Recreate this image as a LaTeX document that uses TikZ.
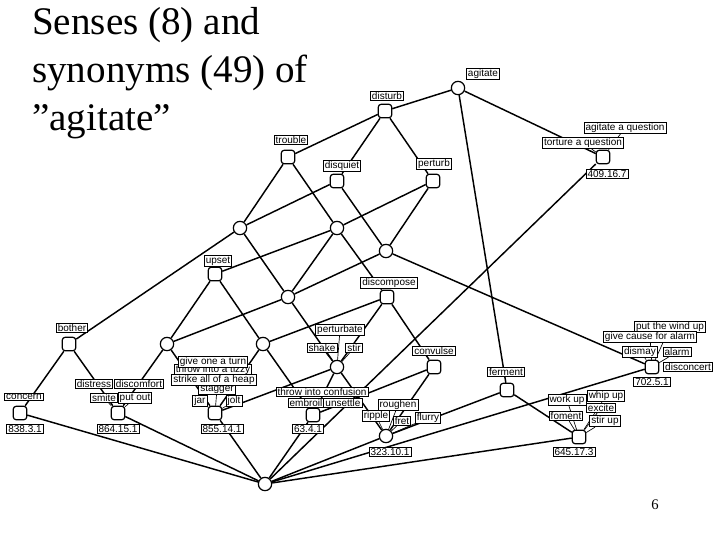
\documentclass[tikz,border=0pt]{standalone}
\usepackage{fontspec}
\setmainfont{Liberation Serif}
\newfontfamily\lblfont{Liberation Sans}
\pgfdeclarelayer{bg}
\pgfsetlayers{bg,main}
\begin{document}
\begin{tikzpicture}[x=0.75pt,y=-0.75pt,
  cnode/.style={circle,draw,fill=white,minimum size=10pt,inner sep=0pt,line width=0.9pt},
  snode/.style={rectangle,rounded corners=2pt,draw,fill=white,minimum size=10pt,inner sep=0pt,line width=0.9pt},
  lbl/.style={draw,fill=white,font=\lblfont\fontsize{7.5}{8}\selectfont,inner xsep=1.2pt,inner ysep=0.8pt,line width=0.6pt},
  con/.style={line width=1.1pt},
  lead/.style={line width=0.5pt},
  title/.style={anchor=base west,font=\fontsize{29.3}{35}\selectfont,inner sep=0pt}]
\useasboundingbox (0,0) rectangle (720,540);
% title
\node[title] (t1) at (32,34) {Senses (8) and};
\node[title] (t2) at (32,82) {synonyms (49) of};
\node[title] (t3) at (32,130) {”agitate”};
\node[font=\fontsize{11}{12}\selectfont] (pg) at (655,505) {6};
% concept nodes
\node[cnode] (A) at (458,88) {};
\node[snode] (B) at (385,111) {};
\node[snode] (C) at (288,157) {};
\node[snode] (D) at (337,181) {};
\node[snode] (E) at (433,181) {};
\node[snode] (F) at (603,157) {};
\node[cnode] (G) at (240,228) {};
\node[cnode] (H) at (337,228) {};
\node[cnode] (I) at (386,251) {};
\node[snode] (J) at (215,274) {};
\node[cnode] (K) at (288,297) {};
\node[snode] (L) at (387,297) {};
\node[snode] (M) at (69,344) {};
\node[cnode] (N) at (167,344) {};
\node[cnode] (O) at (263,344) {};
\node[cnode] (P) at (337,367) {};
\node[snode] (Q) at (434,367) {};
\node[snode] (R) at (507,390) {};
\node[snode] (S) at (652,367) {};
\node[snode] (T) at (20,413) {};
\node[snode] (U) at (118,413) {};
\node[snode] (V) at (215,413) {};
\node[snode] (W) at (313,415) {};
\node[cnode] (X) at (386,436) {};
\node[snode] (Y) at (579,437) {};
\node[cnode] (Z) at (265,484) {};
% labels
\node[lbl] (l1) at (483,74) {agitate};
\node[lbl] (l2) at (387,96) {disturb};
\node[lbl] (l3) at (291,140) {trouble};
\node[lbl] (l4) at (342,166) {disquiet};
\node[lbl] (l5) at (434,164) {perturb};
\node[lbl] (l6) at (625,128) {agitate a question};
\node[lbl] (l7) at (583,143) {torture a question};
\node[lbl] (l8) at (607,174) {409.16.7};
\node[lbl] (l9) at (218,261) {upset};
\node[lbl] (l10) at (389,283) {discompose};
\node[lbl] (l11) at (72,328) {bother};
\node[lbl] (l12) at (24,397) {concern};
\node[lbl] (l13) at (25,429) {838.3.1};
\node[lbl] (l14) at (94,384) {distress};
\node[lbl] (l15) at (139,384) {discomfort};
\node[lbl] (l16) at (104,398) {smite};
\node[lbl] (l17) at (135,398) {put out};
\node[lbl] (l18) at (118,429) {864.15.1};
\node[lbl] (l22) at (217,389) {stagger};
\node[lbl] (l20) at (213,370) {throw into a tizzy};
\node[lbl] (l19) at (213,362) {give one a turn};
\node[lbl] (l21) at (214,380) {strike all of a heap};
\node[lbl] (l23) at (200,401) {jar};
\node[lbl] (l24) at (234,401) {jolt};
\node[lbl] (l25) at (222,429) {855.14.1};
\node[lbl] (l26) at (340,330) {perturbate};
\node[lbl] (l27) at (322,348) {shake};
\node[lbl] (l28) at (354,348) {stir};
\node[lbl] (l34) at (398,405) {roughen};
\node[lbl] (l29) at (322,392) {throw into confusion};
\node[lbl] (l30) at (306,403) {embroil};
\node[lbl] (l31) at (343,403) {unsettle};
\node[lbl] (l32) at (308,429) {63.4.1};
\node[lbl] (l33) at (434,351) {convulse};
\node[lbl] (l35) at (376,416) {ripple};
\node[lbl] (l36) at (402,421) {fret};
\node[lbl] (l37) at (428,418) {flurry};
\node[lbl] (l38) at (390,452) {323.10.1};
\node[lbl] (l39) at (506,372) {ferment};
\node[lbl] (l40) at (670,327) {put the wind up};
\node[lbl] (l41) at (650,337) {give cause for alarm};
\node[lbl] (l42) at (640,352) {dismay};
\node[lbl] (l43) at (677,352) {alarm};
\node[lbl] (l44) at (688,367) {disconcert};
\node[lbl] (l45) at (652,382) {702.5.1};
\node[lbl] (l46) at (567,400) {work up};
\node[lbl] (l47) at (606,396) {whip up};
\node[lbl] (l48) at (601,408) {excite};
\node[lbl] (l49) at (566,416) {foment};
\node[lbl] (l50) at (605,421) {stir up};
\node[lbl] (l51) at (574,452) {645.17.3};
% connectors
\begin{pgfonlayer}{bg}
\foreach \a/\b in {A/B,A/F,A/R,B/C,B/D,B/E,C/G,C/H,D/G,D/I,E/H,E/I,
  G/M,G/K,H/J,H/K,H/L,I/K,I/S,J/N,J/O,K/N,K/P,L/O,L/P,L/Q,
  M/T,M/U,N/U,N/V,O/V,O/W,P/V,P/W,P/X,Q/W,Q/X,R/X,R/Y,
  Z/T,Z/U,Z/V,Z/W,Z/X,Z/Y,Z/S,Z/F}
  \draw[con] (\a) -- (\b);
% leader lines from word labels to their nodes
\foreach \a/\b in {l6/F,l7/F,l16/U,l17/U,l22/V,l23/V,l24/V,l26/P,l27/P,l28/P,
  l30/W,l31/W,l34/X,l35/X,l36/X,l37/X,l40/S,l41/S,l42/S,l43/S,
  l46/Y,l47/Y,l48/Y,l49/Y,l50/Y}
  \draw[lead] (\a) -- (\b);
\end{pgfonlayer}
\end{tikzpicture}
\end{document}
